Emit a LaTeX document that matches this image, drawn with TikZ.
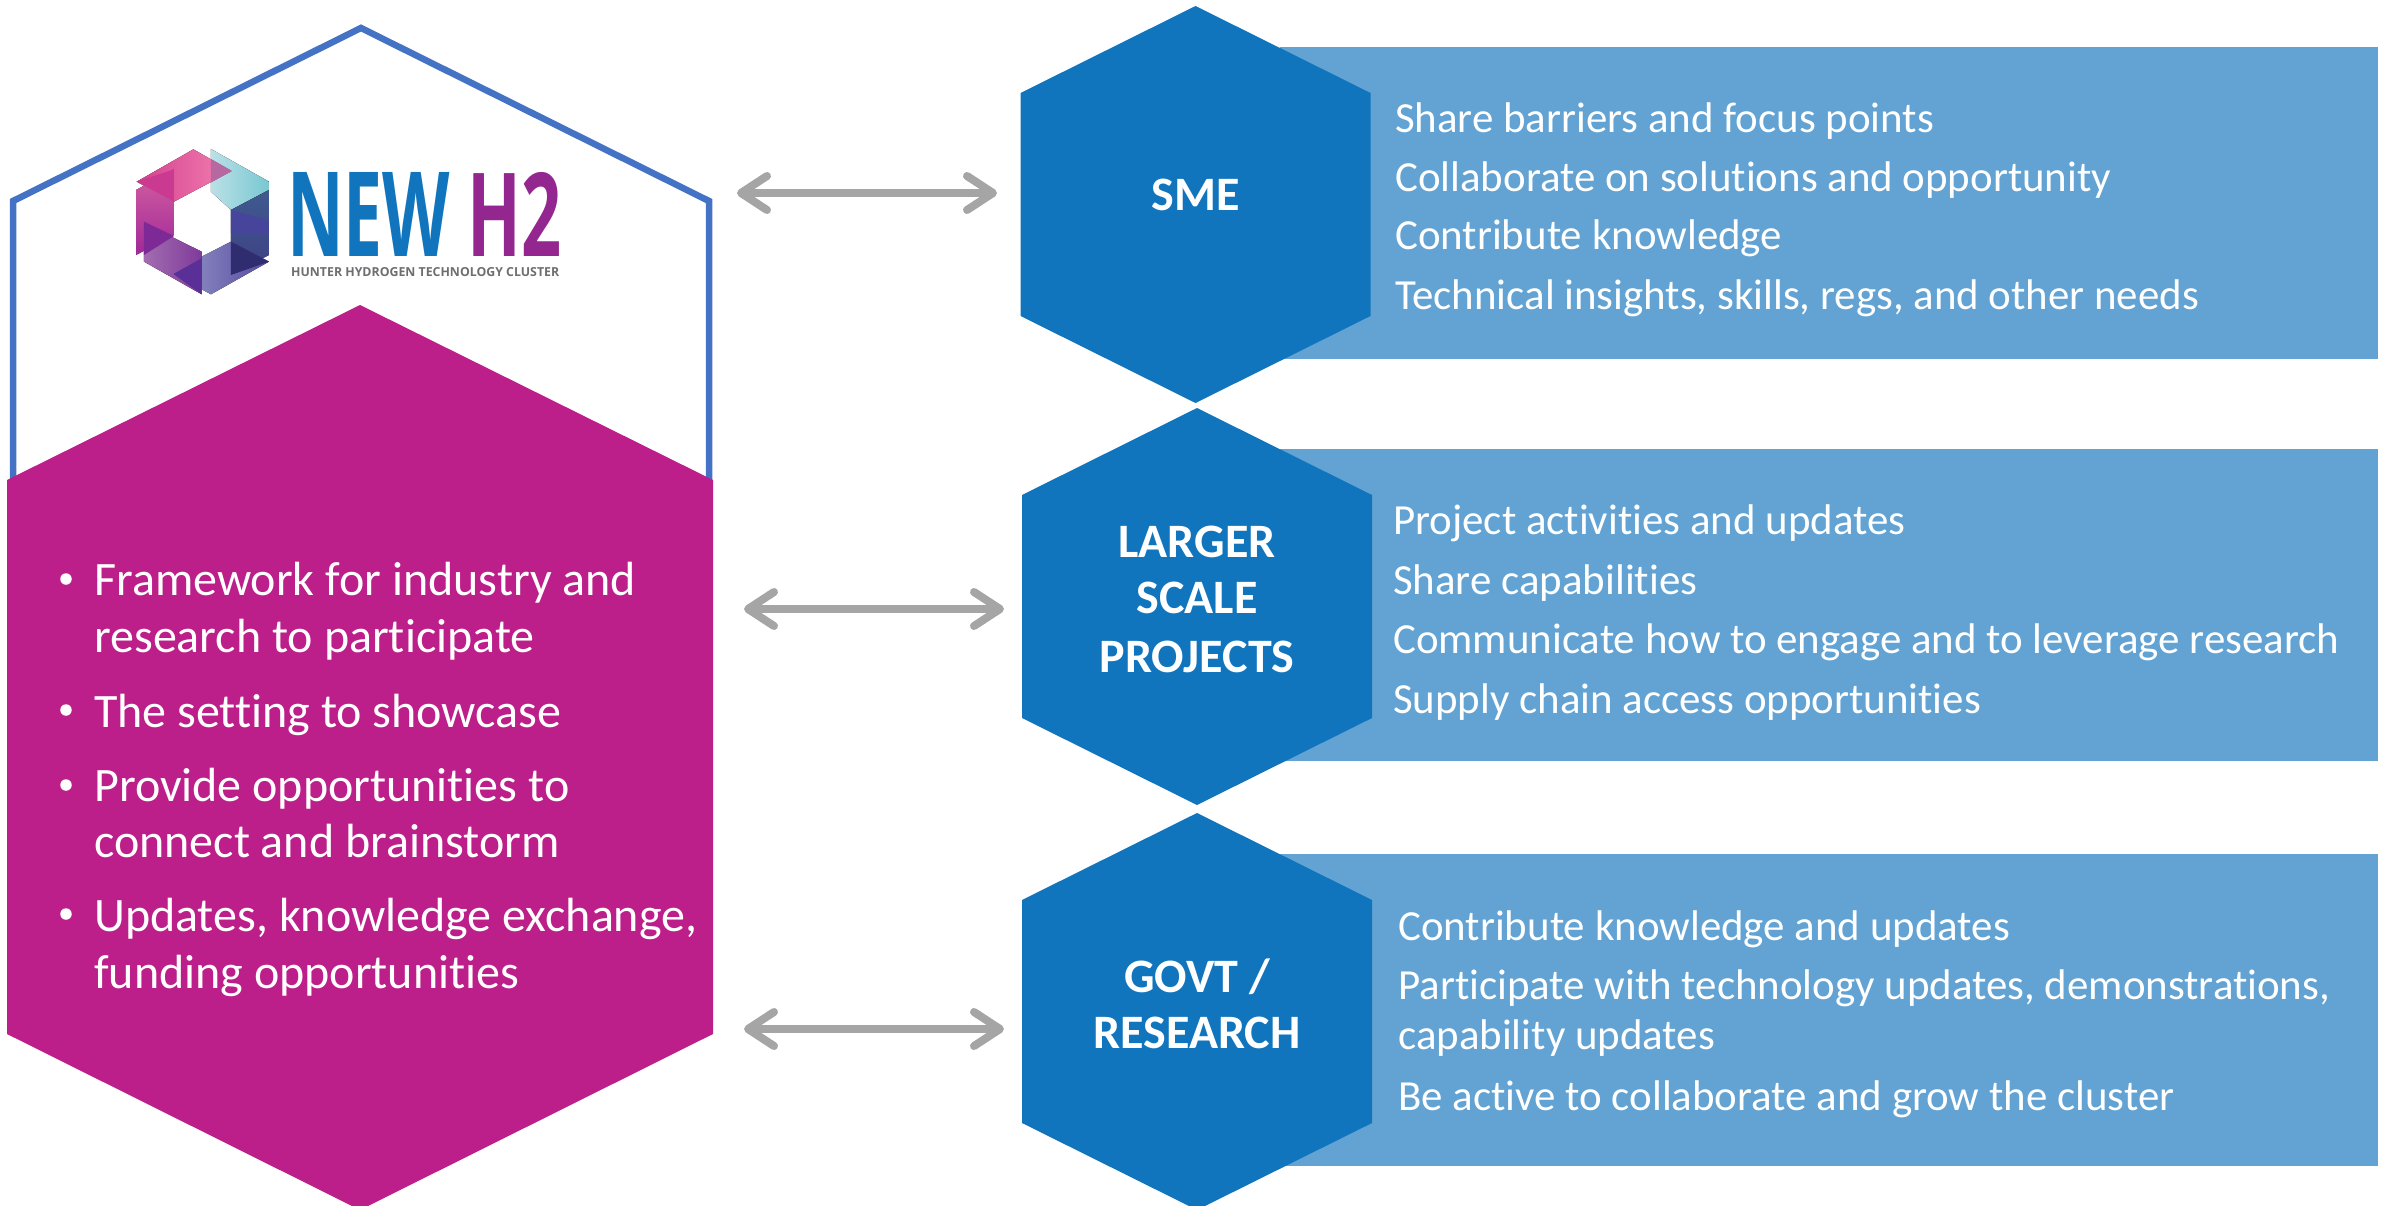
\documentclass[tikz,border=0pt]{standalone}
\usepackage{fontspec}
\usepackage{graphicx}
\setmainfont{Carlito}[Ligatures=NoCommon]
\newfontfamily\logofont{Open Sans}
\usetikzlibrary{arrows.meta}
\definecolor{magentafill}{HTML}{BC1E8A}
\definecolor{hexblue}{HTML}{1175BE}
\definecolor{panelblue}{HTML}{62A3D3}
\definecolor{outlineblue}{HTML}{4472C4}
\definecolor{arrowgray}{HTML}{A5A5A5}
\definecolor{logopurple}{HTML}{93268F}
\definecolor{logogray}{HTML}{6D6E71}
\definecolor{tealA}{HTML}{BBE0E6}\definecolor{tealB}{HTML}{78C8D2}
\definecolor{pinkA}{HTML}{D5408F}\definecolor{pinkB}{HTML}{F27FB0}
\definecolor{pinkOv}{HTML}{B868A0}\definecolor{pinkDk}{HTML}{C93A90}
\definecolor{rtA}{HTML}{3F5A8F}\definecolor{rtB}{HTML}{2E3192}\definecolor{rtC}{HTML}{3F3F85}
\definecolor{lowA}{HTML}{8280BC}\definecolor{lowB}{HTML}{564AA0}
\definecolor{leftA}{HTML}{A26DB0}\definecolor{leftB}{HTML}{7F3A9A}
\definecolor{mA}{HTML}{D5609F}\definecolor{mB}{HTML}{C41A8A}\definecolor{mC}{HTML}{A0289A}
\definecolor{ovA}{HTML}{7E2A96}\definecolor{ovB}{HTML}{5A3098}\definecolor{ovC}{HTML}{2F2D70}\definecolor{ovD}{HTML}{47459B}
\tikzset{
  panel/.style={fill=panelblue,draw=none},
  hexnode/.style={minimum width=350pt,minimum height=397pt,inner sep=0pt,outer sep=0pt,
    path picture={\fill[hexblue]
      (path picture bounding box.north) --
      ([yshift=-87pt]path picture bounding box.north east) --
      ([yshift=87pt]path picture bounding box.south east) --
      (path picture bounding box.south) --
      ([yshift=87pt]path picture bounding box.south west) --
      ([yshift=-87pt]path picture bounding box.north west) -- cycle;}},
  hexlabel/.style={anchor=base,text=white,inner sep=0pt,font=\fontsize{48}{56}\selectfont\bfseries},
  panelline/.style={anchor=base west,text=white,inner sep=0pt,font=\fontsize{42.9}{50}\selectfont},
  mainline/.style={anchor=base west,text=white,inner sep=0pt,font=\fontsize{48}{56}\selectfont},
  bulletmark/.style={circle,fill=white,inner sep=0pt,minimum size=11.5pt},
  biarrow/.style={draw=arrowgray,line width=8pt,
    {Straight Barb[length=26pt,width=34pt,line width=8pt,round]}-{Straight Barb[length=26pt,width=34pt,line width=8pt,round]}},
}
\begin{document}
\begin{tikzpicture}[x=1pt,y=-1pt]
\useasboundingbox (0,0) rectangle (2384,1206);
% panels
\fill[panel] (1280,47) rectangle (2378,359);
\fill[panel] (1280,449) rectangle (2378,761);
\fill[panel] (1280,854) rectangle (2378,1166);
% right hexagons
\node[hexnode] (smehex) at (1195.5,204.5) {};
\node[hexnode] (largehex) at (1197,606.5) {};
\node[hexnode] (govhex) at (1197,1011.5) {};
% outline
\draw[outlineblue,line width=6.5pt,line join=miter] (13,490) -- (13,201) -- (361,28) -- (709,201) -- (709,490);
% logo
\begin{scope}[shift={(120,130)},x=0.3333pt,y=-0.3333pt]
 \fill[left color=tealA,right color=tealB] (273,57) -- (447,155) -- (447,180) -- (333,240) -- (273,185) -- cycle;
 \fill[left color=pinkA,right color=pinkB] (50,155) -- (220,58) -- (335,123) -- (162,215) -- cycle;
 \fill[pinkOv] (273,87) -- (335,123) -- (273,158) -- cycle;
 \fill[top color=rtA,middle color=rtB,bottom color=rtC] (333,240) -- (447,180) -- (447,375) -- (333,435) -- cycle;
 \fill[left color=lowA,right color=lowB] (245,380) -- (333,335) -- (447,395) -- (273,493) -- (245,478) -- cycle;
 \fill[left color=leftA,right color=leftB] (72,275) -- (72,395) -- (245,493) -- (245,365) -- (150,318) -- cycle;
 \fill[top color=mA,middle color=mB,bottom color=mC] (48,180) -- (162,118) -- (162,315) -- (48,375) -- cycle;
 \fill[pinkDk] (50,155) -- (162,118) -- (162,215) -- cycle;
 \fill[ovA] (72,275) -- (162,318) -- (72,375) -- cycle;
 \fill[ovB] (160,432) -- (245,385) -- (245,493) -- cycle;
 \fill[ovC] (333,335) -- (447,395) -- (333,435) -- cycle;
 \fill[ovD] (333,240) -- (447,272) -- (447,310) -- (333,310) -- cycle;
\end{scope}
\node[anchor=south west,inner sep=0pt,text=hexblue] (lognew) at (287,257) {\resizebox{163pt}{84pt}{\logofont\bfseries NEW}};
\node[anchor=south west,inner sep=0pt,text=logopurple] (logh) at (467,257) {\resizebox{94pt}{84pt}{\logofont\bfseries H2}};
\node[anchor=south west,inner sep=0pt,text=logogray] (logtag) at (291,277) {\resizebox{268pt}{9pt}{\logofont\bfseries HUNTER HYDROGEN TECHNOLOGY CLUSTER}};
% magenta hexagon
\fill[magentafill] (360,305) -- (713,480) -- (713,1034) -- (360,1210) -- (7,1034) -- (7,480) -- cycle;
% bullets
\node[bulletmark] (b1) at (66,579) {};
\node[bulletmark] (b2) at (66,710) {};
\node[bulletmark] (b3) at (66,785) {};
\node[bulletmark] (b4) at (66,914) {};
\node[mainline] (m1) at (94,595.5) {Framework for industry and};
\node[mainline] (m2) at (94,652.5) {research to participate};
\node[mainline] (m3) at (94,727.5) {The setting to showcase};
\node[mainline] (m4) at (94,801.5) {Provide opportunities to};
\node[mainline] (m5) at (94,857.5) {connect and brainstorm};
\node[mainline] (m6) at (94,931.5) {Updates, knowledge exchange,};
\node[mainline] (m7) at (94,988.5) {funding opportunities};
% hex labels
\node[hexlabel] (t1) at (1196,210.5) {SME};
\node[hexlabel] (t2) at (1197,557.5) {LARGER};
\node[hexlabel] (t3) at (1197,613.5) {SCALE};
\node[hexlabel] (t4) at (1197,672) {PROJECTS};
\node[hexlabel] (t5) at (1197,992) {GOVT /};
\node[hexlabel] (t6) at (1197,1048) {RESEARCH};
% panel text
\node[panelline] (p1) at (1395,132.5) {Share barriers and focus points};
\node[panelline] (p2) at (1395,191.5) {Collaborate on solutions and opportunity};
\node[panelline] (p3) at (1395,249.5) {Contribute knowledge};
\node[panelline] (p4) at (1395,309.5) {Technical insights, skills, regs, and other needs};
\node[panelline] (p5) at (1393,534.5) {Project activities and updates};
\node[panelline] (p6) at (1393,594.5) {Share capabilities};
\node[panelline] (p7) at (1393,653.5) {Communicate how to engage and to leverage research};
\node[panelline] (p8) at (1393,713.5) {Supply chain access opportunities};
\node[panelline] (p9) at (1398,940.5) {Contribute knowledge and updates};
\node[panelline] (p10) at (1398,999.5) {Participate with technology updates, demonstrations,};
\node[panelline] (p11) at (1398,1049.5) {capability updates};
\node[panelline] (p12) at (1398,1110.5) {Be active to collaborate and grow the cluster};
% arrows
\coordinate (a1w) at (737,193); \coordinate (a1e) at (997,193);
\coordinate (a2w) at (744,609); \coordinate (a2e) at (1004,609);
\coordinate (a3w) at (744,1029); \coordinate (a3e) at (1004,1029);
\draw[biarrow] (a1w) -- (a1e);
\draw[biarrow] (a2w) -- (a2e);
\draw[biarrow] (a3w) -- (a3e);
\end{tikzpicture}
\end{document}
